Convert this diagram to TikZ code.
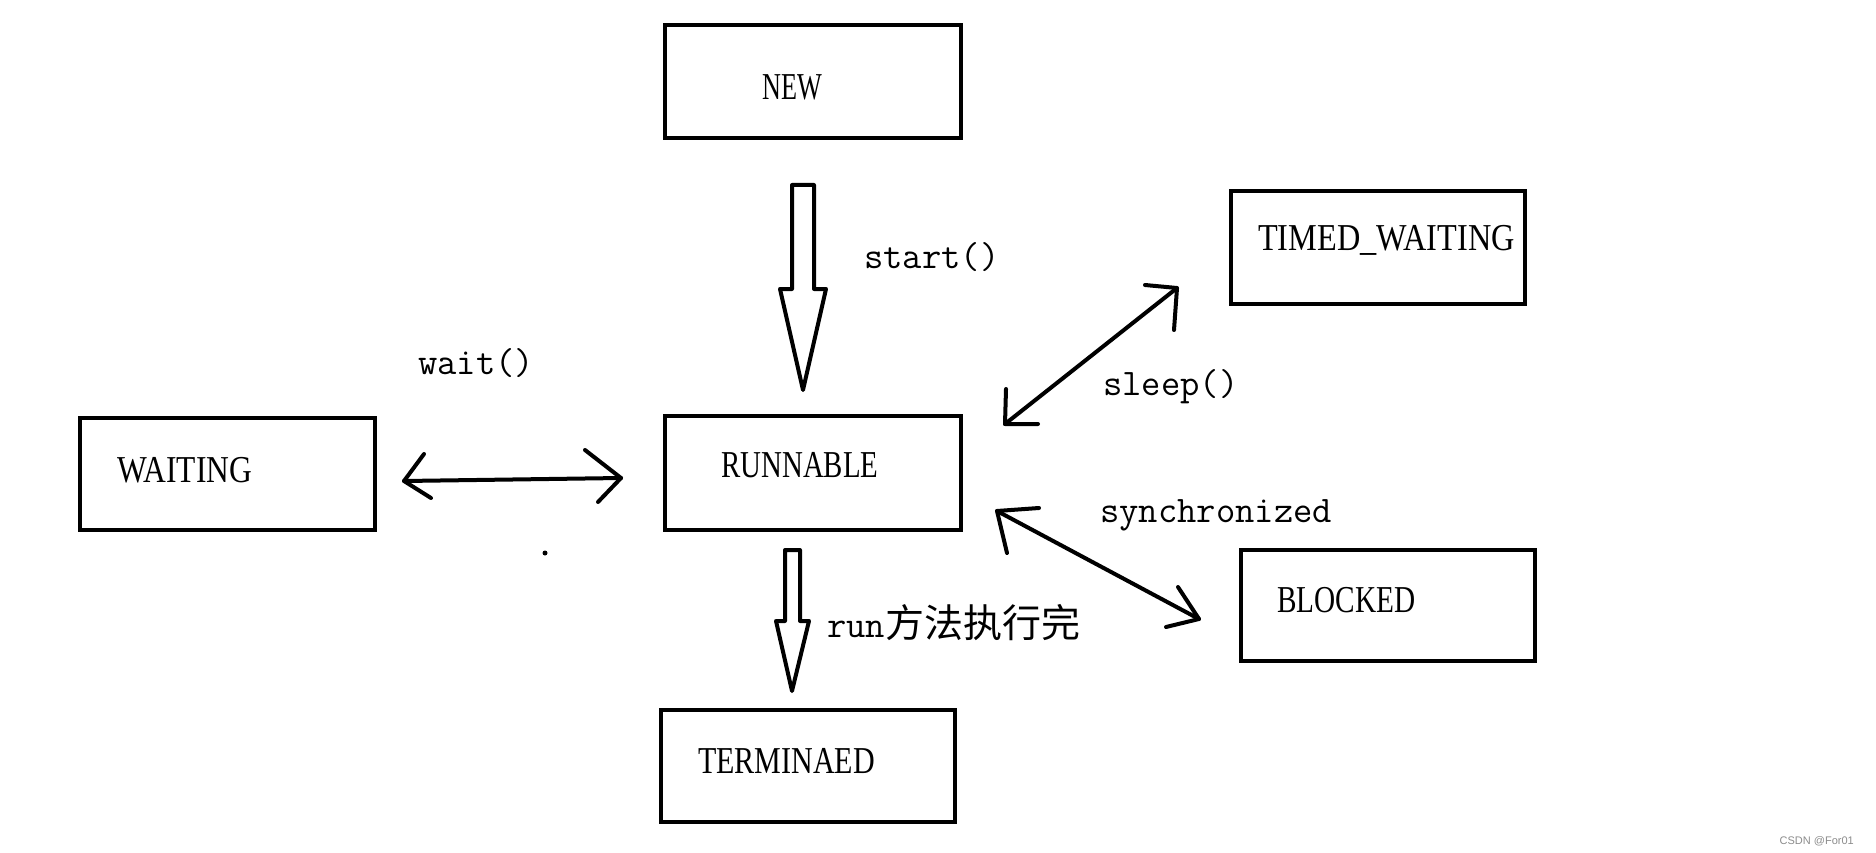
\documentclass[tikz,border=0pt]{standalone}
\usepackage{fontspec}
\usepackage{graphicx}
\newfontfamily\boxfont{Liberation Serif}
\newfontfamily\cjkfont{Noto Sans CJK SC}
\newfontfamily\wmfont{Liberation Sans}
\newcommand{\boxlbl}[2]{\scalebox{#1}[1]{#2}}
\begin{document}
\begin{tikzpicture}[x=1pt,y=-1pt,
  statebox/.style={draw=black, line width=4pt, fill=none, inner sep=0pt, rectangle},
  boxtext/.style={inner sep=0pt, anchor=base west, font=\boxfont\fontsize{38}{40}\selectfont},
  lbltext/.style={inner sep=0pt, anchor=base west, font=\ttfamily\fontsize{37.5}{39}\selectfont},
  conn/.style={line width=4pt, line cap=round, line join=round},
  hollow/.style={line width=4pt, line join=round, fill=white}]
\useasboundingbox (0,0) rectangle (1876,853);
\fill[white] (0,0) rectangle (1876,853);

% boxes
\node[statebox, minimum width=296pt, minimum height=113pt] (new) at (813,81.5) {};
\node[statebox, minimum width=296pt, minimum height=114pt] (run) at (813,473) {};
\node[statebox, minimum width=294pt, minimum height=113pt] (timed) at (1378,247.5) {};
\node[statebox, minimum width=294pt, minimum height=111pt] (blocked) at (1388,605.5) {};
\node[statebox, minimum width=295pt, minimum height=112pt] (waiting) at (227.5,474) {};
\node[statebox, minimum width=294pt, minimum height=112pt] (term) at (808,766) {};

% box labels
\node[boxtext] (newt) at (762,100) {\boxlbl{0.69}{NEW}};
\node[boxtext] (runt) at (721,477) {\boxlbl{0.76}{RUNNABLE}};
\node[boxtext] (timedt) at (1258,250) {\boxlbl{0.85}{TIMED\_WAITING}};
\node[boxtext] (blockedt) at (1277,612) {\boxlbl{0.77}{BLOCKED}};
\node[boxtext] (waitingt) at (117,482) {\boxlbl{0.83}{WAITING}};
\node[boxtext] (termt) at (698,773) {\boxlbl{0.79}{TERMINAED}};

% edge labels
\node[lbltext] (startl) at (864,268) {start()};
\node[lbltext] (waitl) at (418,374) {wait()};
\node[lbltext] (sleepl) at (1103,395) {sleep()};
\node[lbltext] (syncl) at (1100,522) {synchronized};
\node[lbltext] (runl) at (827,637) {run{\cjkfont\fontsize{39}{41}\selectfont 方法执行完}};

% hollow arrow NEW -> RUNNABLE
\coordinate (s1) at (792,185);
\coordinate (s2) at (814,185);
\coordinate (s3) at (814,289);
\coordinate (s4) at (826,289);
\coordinate (stip) at (803,390);
\coordinate (s5) at (780,289);
\coordinate (s6) at (792,289);
\draw[hollow] (s1) -- (s2) -- (s3) -- (s4) -- (stip) -- (s5) -- (s6) -- cycle;

% hollow arrow RUNNABLE -> TERMINAED
\coordinate (r1) at (785,550);
\coordinate (r2) at (800,550);
\coordinate (r3) at (800,621);
\coordinate (r4) at (809,621);
\coordinate (rtip) at (792,691);
\coordinate (r5) at (776,621);
\coordinate (r6) at (785,621);
\draw[hollow] (r1) -- (r2) -- (r3) -- (r4) -- (rtip) -- (r5) -- (r6) -- cycle;

% wait() double arrow
\coordinate (wl) at (404,481);
\coordinate (wr) at (621,478);
\draw[conn] (wl) -- (wr);
\draw[conn] (424,454) -- (wl) -- (431,498);
\draw[conn] (585,450) -- (wr) -- (598,502);

% sleep() double arrow
\coordinate (sl) at (1005,424);
\coordinate (su) at (1177,288);
\draw[conn] (sl) -- (su);
\draw[conn] (1006,389) -- (sl) -- (1038,424);
\draw[conn] (1145,285) -- (su) -- (1174,330);

% synchronized double arrow
\coordinate (yu) at (997,511);
\coordinate (yl) at (1199,619);
\draw[conn] (yu) -- (yl);
\draw[conn] (1039,508) -- (yu) -- (1007,553);
\draw[conn] (1178,587) -- (yl) -- (1166,627);

% stray dot
\fill[black] (545,553) circle (2.5pt);

% watermark
\node[inner sep=0pt, anchor=base east, text=black!45, font=\wmfont\fontsize{11}{12}\selectfont] (wm) at (1854,844) {CSDN @For01};
\end{tikzpicture}
\end{document}
